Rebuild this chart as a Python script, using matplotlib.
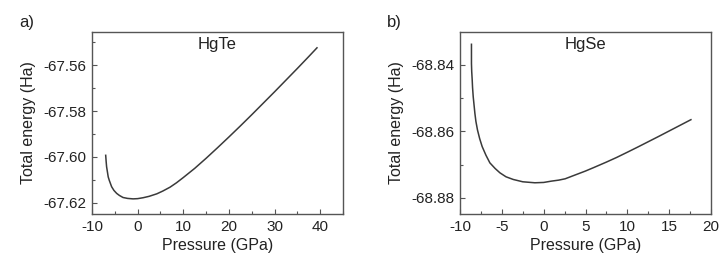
import matplotlib
matplotlib.use("Agg")
import matplotlib.pyplot as plt
from matplotlib.ticker import MultipleLocator, FormatStrFormatter

plt.rcParams['font.family'] = ['Liberation Sans', 'DejaVu Sans']
plt.rcParams['axes.unicode_minus'] = False

# Panel a) HgTe
p_hgte = [-7.0, -6.9, -6.8, -6.6, -6.45, -6.2, -5.7, -5.2, -4.6, -4.0, -3.2,
          -2.2, -1.0, 0.0, 1.2, 2.5, 4.2, 5.5, 7.1, 8.5, 10.0,
          12.5, 15.0, 17.5, 20.0, 22.5, 25.0, 27.5, 30.0, 32.5, 35.0, 37.5, 39.3]
e_hgte = [-67.5993, -67.6020, -67.6043, -67.6068, -67.6087, -67.6103, -67.6130,
          -67.6146, -67.6159, -67.6168, -67.6177, -67.6181, -67.6183, -67.6182,
          -67.6178, -67.6172, -67.6161, -67.6149, -67.6132, -67.6113, -67.6090,
          -67.6050, -67.6006, -67.5960, -67.5913, -67.5865, -67.5816, -67.5766,
          -67.5716, -67.5665, -67.5614, -67.5562, -67.5524]

# Panel b) HgSe
p_hgse = [-8.63, -8.63, -8.6, -8.54, -8.5, -8.42, -8.22, -8.1, -7.91, -7.65,
          -7.35, -6.9, -6.43, -5.8, -5.23, -4.5, -3.64, -2.5, -1.05, 0.0, 0.93,
          1.8, 2.57, 3.5, 4.96, 6.0, 7.47, 8.7, 10.0, 11.2, 12.45, 13.7, 15.0,
          16.3, 17.6]
e_hgse = [-68.8338, -68.8396, -68.8420, -68.8446, -68.8468, -68.8496, -68.8546,
          -68.8570, -68.8596, -68.8622, -68.8646, -68.8672, -68.8695, -68.8712,
          -68.8725, -68.8737, -68.8745, -68.8752, -68.8755, -68.8754, -68.8750,
          -68.8747, -68.8743, -68.8734, -68.8720, -68.8709, -68.8693, -68.8679,
          -68.8663, -68.8648, -68.8632, -68.8616, -68.8599, -68.8582, -68.8565]

fig = plt.figure(figsize=(7.25, 2.61), dpi=100)
ax1 = fig.add_axes([92/725, 47/261, 251/725, 182/261])
ax2 = fig.add_axes([460/725, 47/261, 251/725, 182/261])

line_c = '#3a3a3a'
spine_c = '#555555'
txt_c = '#222222'
fs = 11

def style(ax, xmaj, xmin, ymaj, ymin):
    ax.xaxis.set_major_locator(MultipleLocator(xmaj))
    ax.xaxis.set_minor_locator(MultipleLocator(xmin))
    ax.yaxis.set_major_locator(MultipleLocator(ymaj))
    ax.yaxis.set_minor_locator(MultipleLocator(ymin))
    ax.yaxis.set_major_formatter(FormatStrFormatter('%.2f'))
    ax.tick_params(which='both', direction='in', top=False, right=False,
                   colors=spine_c, labelcolor=txt_c, labelsize=fs, width=0.8)
    ax.tick_params(which='major', length=3.5, pad=4)
    ax.tick_params(which='minor', length=2)
    for s in ax.spines.values():
        s.set_color(spine_c)
        s.set_linewidth(1.0)
    ax.set_xlabel('Pressure (GPa)', fontsize=fs + 0.5, color=txt_c, labelpad=3)
    ax.set_ylabel('Total energy (Ha)', fontsize=fs + 0.5, color=txt_c, labelpad=5)

ax1.plot(p_hgte, e_hgte, color=line_c, lw=1.1)
ax1.set_xlim(-10, 45)
ax1.set_ylim(-67.6249, -67.5455)
style(ax1, 10, 5, 0.02, 0.01)
ax1.text(0.5, 0.93, 'HgTe', transform=ax1.transAxes, ha='center', va='center',
         fontsize=fs + 1, color=txt_c)

ax2.plot(p_hgse, e_hgse, color=line_c, lw=1.1)
ax2.set_xlim(-10, 20)
ax2.set_ylim(-68.8849, -68.8301)
style(ax2, 5, 2.5, 0.02, 0.01)
ax2.text(0.5, 0.93, 'HgSe', transform=ax2.transAxes, ha='center', va='center',
         fontsize=fs + 1, color=txt_c)

fig.text(27/725, 1 - 23/261, 'a)', ha='center', va='center', fontsize=fs + 1, color=txt_c)
fig.text(394/725, 1 - 23/261, 'b)', ha='center', va='center', fontsize=fs + 1, color=txt_c)

fig.savefig('out.png', dpi=100)
